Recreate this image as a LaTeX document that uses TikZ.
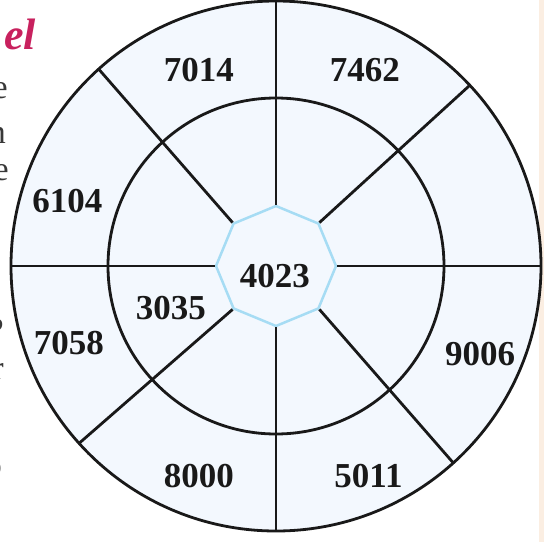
\documentclass[tikz,border=0pt]{standalone}
\usepackage{fontspec}
\setmainfont{Liberation Serif}
\usetikzlibrary{shapes.geometric, positioning}
\definecolor{ringfill}{HTML}{F3F8FE}
\definecolor{octline}{HTML}{A6DCF4}
\definecolor{headpink}{HTML}{C8215E}
\definecolor{pageedge}{HTML}{FBEEE2}

\begin{document}
\begin{tikzpicture}[x=1pt, y=1pt,
    num/.style={font=\bfseries\fontsize{35}{37}\selectfont, text=black!90, inner sep=0pt},
    frag/.style={anchor=east, font=\fontsize{34}{36}\selectfont, text=black!78, inner sep=0pt},
    ring/.style={draw=black!90, line width=2.8pt}
]
\useasboundingbox (-276,-276) rectangle (268,266);
\fill[pageedge] (263,-276) rectangle (268,266);

% cut-off page text on the left
\node[anchor=base east, inner sep=0pt, text=headpink,
      font=\bfseries\itshape\fontsize{44}{46}\selectfont] (head) at (-240,217) {el};
\node[frag] (f1) at (-268,175) {e};
\node[frag] (f2) at (-270,131) {n};
\node[frag] (f3) at (-267,93) {e};
\node[frag] (f4) at (-272,-64) {?};
\node[frag] (f5) at (-272,-105) {r};
\node[frag] (f6) at (-274,-203) {o};
\node[frag] (f7) at (-274,-252) {.};

% wheel
\coordinate (c) at (0,0);
\fill[ringfill] (c) circle (265);
\draw[ring] (c) circle (168);
\node[regular polygon, regular polygon sides=8, shape border rotate=22.5,
      minimum size=120pt, inner sep=0pt, fill=ringfill, draw=octline,
      line width=2.5pt] (oct) at (c) {};
\draw[ring] (oct.90) -- (90:265);
\draw[ring] (oct.270) -- (270:265);
\draw[ring] (oct.180) -- (180:265);
\draw[ring] (oct.0) -- (0:265);
\draw[ring] (oct.45) -- (43:265);
\draw[ring] (oct.135) -- (132:265);
\draw[ring] (oct.225) -- (222:265);
\draw[ring] (oct.315) -- (312:265);
\draw[ring] (c) circle (265);

\node[num] (n4023) at (-1,-10) {4023};
\node[num] (n3035) at (-105,-42) {3035};
\node[num] (n7014) at (-77,196) {7014};
\node[num] (n7462) at (89,196) {7462};
\node[num] (n6104) at (-208.5,64.5) {6104};
\node[num] (n7058) at (-207,-77.5) {7058};
\node[num] (n9006) at (204,-88) {9006};
\node[num] (n8000) at (-77,-210.5) {8000};
\node[num] (n5011) at (92.5,-210.5) {5011};
\end{tikzpicture}
\end{document}
